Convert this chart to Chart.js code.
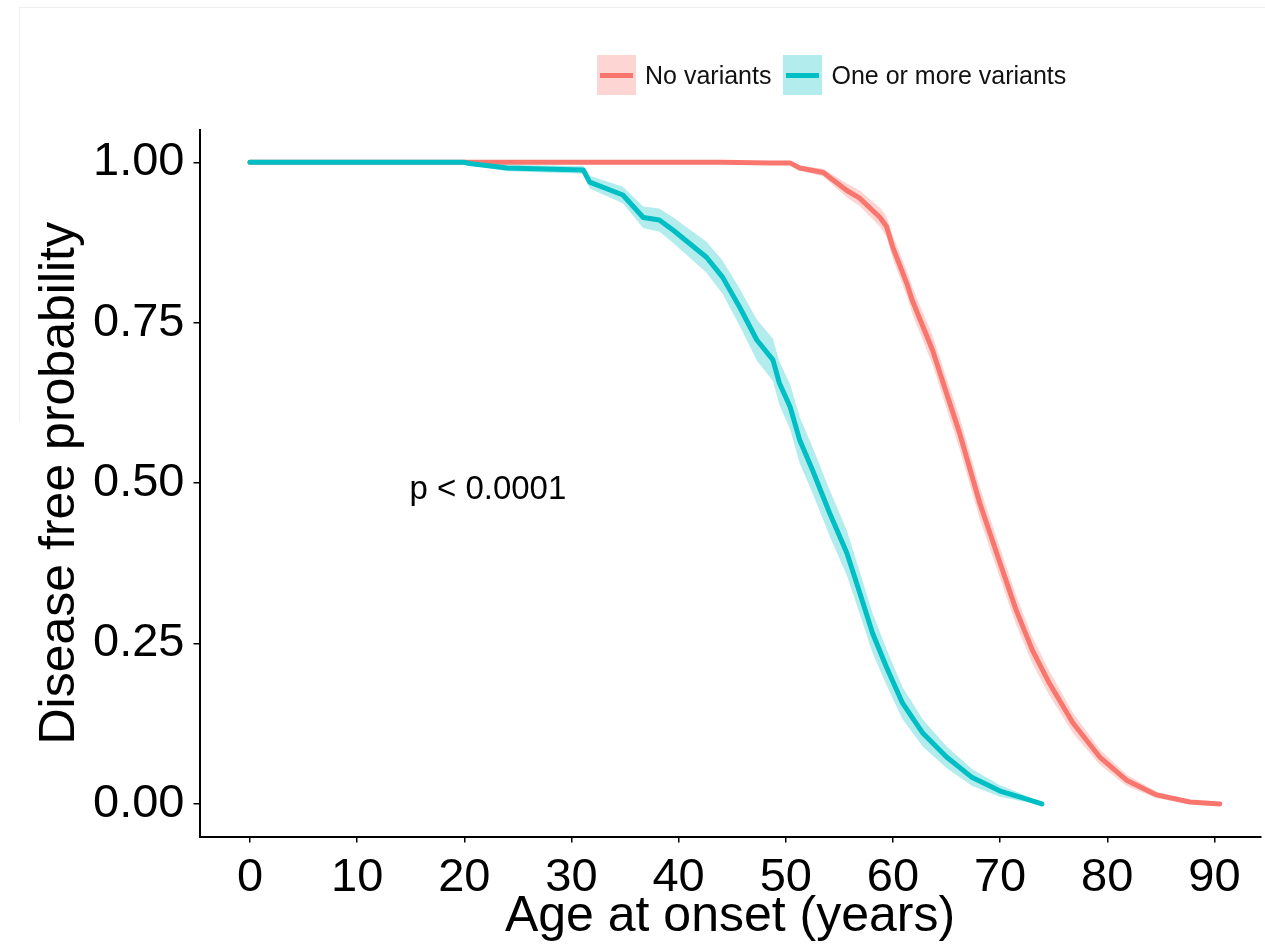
<!DOCTYPE html>
<html>
<head>
<meta charset="utf-8">
<script src="https://cdn.jsdelivr.net/npm/chart.js@4.4.1/dist/chart.umd.min.js"></script>
<style>
  body { margin: 0; background: #fff; font-family: "Liberation Sans", Arial, sans-serif; }
  #wrap { position: relative; width: 1265px; height: 947px; overflow: hidden; }
  #chart { position: absolute; left: 0; top: 0; }
  .frame-top { position: absolute; left: 19px; top: 7px; width: 1246px; height: 1px; background: #efefef; }
  .frame-left { position: absolute; left: 19px; top: 7px; width: 1px; height: 414px; background: #efefef; }
  #legend { position: absolute; left: 597px; top: 55px; display: flex; align-items: center; }
  .legend-item { display: flex; align-items: center; margin-right: 12px; }
  .legend-key { position: relative; width: 39px; height: 40px; }
  .legend-key span { position: absolute; left: 3px; right: 3px; top: 18px; height: 5px; }
  .legend-text { margin-left: 9px; font-size: 25px; color: #111; }
</style>
</head>
<body>
<div id="wrap">
  <div class="frame-top"></div>
  <div class="frame-left"></div>
  <canvas id="chart" width="1265" height="947"></canvas>
  <div id="legend"></div>
</div>
<script>
const SERIES_LABELS = ["No variants", "One or more variants"];
const SERIES_COLORS = ["#F8766D", "#00BFC4"];
const BAND_COLORS = ["rgba(248, 118, 109, 0.3)", "rgba(0, 191, 196, 0.3)"];

// No variants
const AGE_NONE = [0, 40.1, 44.1, 48.5, 50.4, 51.3, 53.5, 55.7, 56.9, 58.8, 59.4, 60.0, 61.3, 61.8, 63.7, 65.0, 66.2, 68.1, 70.0, 71.5, 73.0, 74.6, 76.8, 79.3, 81.8, 84.6, 87.7, 90.5];
const SURV_NONE = [1, 1, 1.0, 0.999, 0.999, 0.991, 0.984, 0.956, 0.944, 0.914, 0.900, 0.867, 0.811, 0.785, 0.707, 0.640, 0.579, 0.469, 0.375, 0.302, 0.240, 0.188, 0.126, 0.073, 0.037, 0.014, 0.003, 0.0];
const UPPER_NONE = [1, 1, 1.0, 1.0, 1.0, 0.995, 0.990, 0.967, 0.956, 0.929, 0.916, 0.885, 0.831, 0.806, 0.730, 0.664, 0.604, 0.494, 0.399, 0.325, 0.261, 0.207, 0.142, 0.085, 0.046, 0.019, 0.006, 0.0];
const LOWER_NONE = [1, 1, 0.998, 0.997, 0.997, 0.987, 0.978, 0.945, 0.932, 0.899, 0.884, 0.849, 0.791, 0.764, 0.684, 0.616, 0.554, 0.444, 0.351, 0.279, 0.219, 0.169, 0.110, 0.061, 0.028, 0.009, 0.0, 0.0];

// One or more variants
const AGE_VAR = [0, 19.96, 20.5, 24.0, 31.1, 31.7, 34.8, 36.7, 38.2, 39.5, 42.6, 44.1, 45.7, 47.3, 48.8, 49.4, 50.4, 51.3, 52.5, 54.1, 55.7, 56.9, 58.1, 59.4, 60.9, 62.8, 65.0, 67.4, 70.0, 71.8, 73.9];
const SURV_VAR = [1, 1, 0.998, 0.991, 0.988, 0.969, 0.949, 0.914, 0.910, 0.894, 0.852, 0.821, 0.774, 0.723, 0.692, 0.656, 0.619, 0.567, 0.520, 0.453, 0.391, 0.329, 0.266, 0.213, 0.157, 0.110, 0.073, 0.041, 0.020, 0.011, 0.0];
const UPPER_VAR = [1, 1, 1.0, 0.996, 0.994, 0.979, 0.962, 0.931, 0.928, 0.914, 0.876, 0.847, 0.803, 0.755, 0.725, 0.690, 0.654, 0.603, 0.556, 0.489, 0.426, 0.362, 0.297, 0.241, 0.182, 0.131, 0.090, 0.054, 0.029, 0.017, 0.002];
const LOWER_VAR = [1, 1, 0.996, 0.986, 0.982, 0.959, 0.936, 0.897, 0.892, 0.874, 0.828, 0.795, 0.745, 0.691, 0.659, 0.622, 0.584, 0.531, 0.484, 0.417, 0.356, 0.296, 0.235, 0.185, 0.132, 0.089, 0.056, 0.028, 0.011, 0.005, 0.0];

const X_TICKS = [0, 10, 20, 30, 40, 50, 60, 70, 80, 90];
const Y_TICKS = [0, 0.25, 0.5, 0.75, 1];
const Y_TICK_LABELS = ["0.00", "0.25", "0.50", "0.75", "1.00"];
const P_LABEL = "p < 0.0001";
const P_LABEL_POS = [22.2, 0.489];

function points(xs, ys) {
  return xs.map((x, i) => ({ x, y: ys[i] }));
}

function band(xs, ys, color, order, fill) {
  return {
    data: points(xs, ys),
    fill: fill,
    backgroundColor: color,
    borderColor: "transparent",
    borderWidth: 0,
    pointRadius: 0,
    order
  };
}

function line(xs, ys, color, order) {
  return {
    data: points(xs, ys),
    fill: false,
    borderColor: color,
    borderWidth: 5,
    borderJoinStyle: "round",
    borderCapStyle: "round",
    pointRadius: 0,
    order
  };
}

// html legend, ggplot style key: filled square with a line through it
document.getElementById("legend").innerHTML = SERIES_LABELS.map((label, i) => `
  <div class="legend-item">
    <div class="legend-key" style="background:${BAND_COLORS[i]}"><span style="background:${SERIES_COLORS[i]}"></span></div>
    <div class="legend-text">${label}</div>
  </div>`).join("");

const pValuePlugin = {
  id: "pvalue",
  afterDatasetsDraw(chart) {
    const { ctx, scales } = chart;
    ctx.save();
    ctx.font = "33px 'Liberation Sans', Arial, sans-serif";
    ctx.fillStyle = "#000";
    ctx.textAlign = "center";
    ctx.textBaseline = "middle";
    ctx.fillText(P_LABEL, scales.x.getPixelForValue(P_LABEL_POS[0]), scales.y.getPixelForValue(P_LABEL_POS[1]));
    ctx.restore();
  }
};

const tickFont = { family: "'Liberation Sans', Arial, sans-serif", size: 47 };
const titleFont = { family: "'Liberation Sans', Arial, sans-serif", size: 50 };

new Chart(document.getElementById("chart"), {
  type: "line",
  data: {
    datasets: [
      band(AGE_NONE, UPPER_NONE, BAND_COLORS[0], 5, "+1"),
      band(AGE_NONE, LOWER_NONE, "transparent", 5, false),
      line(AGE_NONE, SURV_NONE, SERIES_COLORS[0], 4),
      band(AGE_VAR, UPPER_VAR, BAND_COLORS[1], 3, "+1"),
      band(AGE_VAR, LOWER_VAR, "transparent", 3, false),
      line(AGE_VAR, SURV_VAR, SERIES_COLORS[1], 1)
    ]
  },
  options: {
    responsive: false,
    animation: false,
    devicePixelRatio: 1,
    layout: { padding: { top: 130, right: 4.5, left: 0, bottom: 0 } },
    plugins: { legend: { display: false }, tooltip: { enabled: false } },
    elements: { line: { tension: 0 } },
    scales: {
      x: {
        type: "linear",
        min: -4.71,
        max: 94.3,
        afterBuildTicks: axis => { axis.ticks = X_TICKS.map(value => ({ value })); },
        afterFit: scale => { scale.height = 110.5; },
        ticks: { font: tickFont, color: "#000", padding: 7, maxRotation: 0, autoSkip: false, callback: value => String(value) },
        grid: { drawOnChartArea: false, drawTicks: true, tickLength: 6, color: "#000", lineWidth: 1.5 },
        border: { display: true, color: "#000", width: 2 },
        title: { display: true, text: "Age at onset (years)", font: titleFont, color: "#000", padding: { top: 0, bottom: 0 } }
      },
      y: {
        type: "linear",
        min: -0.0508,
        max: 1.0503,
        afterBuildTicks: axis => { axis.ticks = Y_TICKS.map(value => ({ value })); },
        afterFit: scale => { scale.width = 199.5; },
        ticks: { font: tickFont, color: "#000", padding: 9, autoSkip: false, callback: (value, i) => Y_TICK_LABELS[i] },
        grid: { drawOnChartArea: false, drawTicks: true, tickLength: 6, color: "#000", lineWidth: 1.5 },
        border: { display: true, color: "#000", width: 2 },
        title: { display: true, text: "Disease free probability", font: titleFont, color: "#000", padding: { top: 30, bottom: 0 } }
      }
    }
  },
  plugins: [pValuePlugin]
});
</script>
</body>
</html>
